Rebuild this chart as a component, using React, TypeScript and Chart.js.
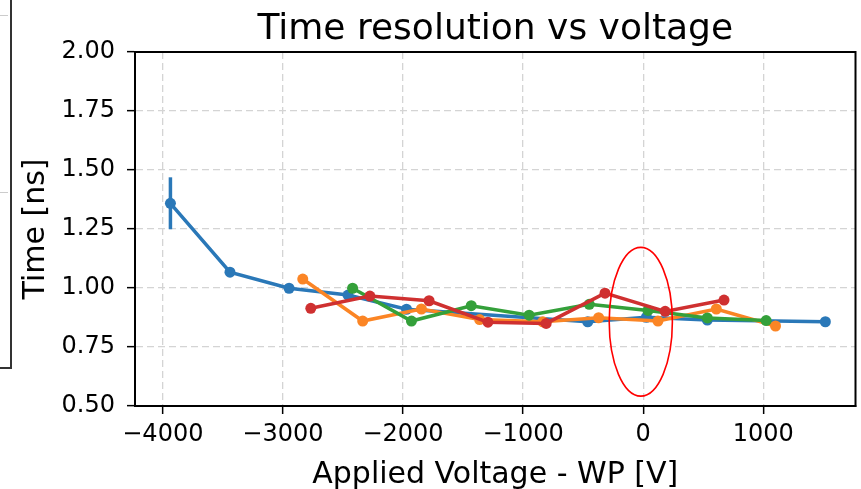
import React, { useEffect, useRef } from 'react';
import { Chart, registerables } from 'chart.js';

Chart.register(...registerables);

// ---- data ----
const titleText = 'Time resolution vs voltage';
const xLabel = 'Applied Voltage - WP [V]';
const yLabel = 'Time [ns]';

const xTicks = [-4000, -3000, -2000, -1000, 0, 1000];
const yTicks = [0.5, 0.75, 1.0, 1.25, 1.5, 1.75, 2.0];

const blueV = [-3937, -3441, -2949, -2458, -1971, -462, 27, 534, 1517];
const blueT = [1.359, 1.067, 0.999, 0.97, 0.91, 0.857, 0.876, 0.864, 0.857];
const blueErr = [0.11, 0.01, 0.01, 0.01, 0.01, 0.01, 0.01, 0.01, 0.01];

const orangeV = [-2835, -2336, -1847, -1362, -836, -371, 123, 609, 1102];
const orangeT = [1.038, 0.86, 0.911, 0.866, 0.857, 0.874, 0.86, 0.911, 0.839];

const greenV = [-2420, -1930, -1432, -950, -449, 40, 534, 1024];
const greenT = [0.999, 0.86, 0.925, 0.885, 0.931, 0.905, 0.873, 0.862];

const redV = [-2768, -2276, -1783, -1293, -808, -318, 183, 673];
const redT = [0.914, 0.966, 0.946, 0.855, 0.85, 0.978, 0.901, 0.949];

// highlighted region (ellipse) in data units
const ellipseCenterV = -20;
const ellipseCenterT = 0.857;
const ellipseRadiusV = 263;
const ellipseRadiusT = 0.315;

const xMin = -4232;
const xMax = 1768;
const yMin = 0.5;
const yMax = 2.0;

const FONT = '"DejaVu Sans", "Liberation Sans", sans-serif';

const toPts = (xs: number[], ys: number[]) => xs.map((x, i) => ({ x, y: ys[i] }));

const series = [
  { v: blueV, t: blueT, color: '#2a78b8', order: 4 },
  { v: orangeV, t: orangeT, color: '#fb8525', order: 3 },
  { v: greenV, t: greenT, color: '#34a03a', order: 2 },
  { v: redV, t: redT, color: '#cf3030', order: 1 },
];

const extrasPlugin = {
  id: 'extras',
  beforeDatasetsDraw(chart: any) {
    const { ctx, scales } = chart;
    const xs = scales.x;
    const ys = scales.y;
    ctx.save();
    ctx.strokeStyle = '#2a78b8';
    ctx.lineWidth = 3.5;
    blueV.forEach((v, i) => {
      const px = xs.getPixelForValue(v);
      ctx.beginPath();
      ctx.moveTo(px, ys.getPixelForValue(blueT[i] + blueErr[i]));
      ctx.lineTo(px, ys.getPixelForValue(blueT[i] - blueErr[i]));
      ctx.stroke();
    });
    ctx.restore();
  },
  afterDatasetsDraw(chart: any) {
    const { ctx, scales, chartArea } = chart;
    const xs = scales.x;
    const ys = scales.y;
    ctx.save();
    const cx = xs.getPixelForValue(ellipseCenterV);
    const cy = ys.getPixelForValue(ellipseCenterT);
    const rx = Math.abs(xs.getPixelForValue(ellipseCenterV + ellipseRadiusV) - cx);
    const ry = Math.abs(ys.getPixelForValue(ellipseCenterT + ellipseRadiusT) - cy);
    ctx.strokeStyle = '#ff0000';
    ctx.lineWidth = 1.6;
    ctx.beginPath();
    ctx.ellipse(cx, cy, rx, ry, 0, 0, Math.PI * 2);
    ctx.stroke();
    ctx.strokeStyle = '#000';
    ctx.lineWidth = 2;
    ctx.strokeRect(chartArea.left, chartArea.top, chartArea.right - chartArea.left, chartArea.bottom - chartArea.top);
    ctx.restore();
  },
  afterDraw(chart: any) {
    const { ctx, chartArea } = chart;
    ctx.save();
    ctx.fillStyle = '#000';
    ctx.font = `36px ${FONT}`;
    ctx.textAlign = 'center';
    ctx.textBaseline = 'alphabetic';
    ctx.fillText(titleText, (chartArea.left + chartArea.right) / 2, 39);
    ctx.restore();
  },
};

const fmtX = (v: number) => (v < 0 ? '\u2212' + Math.abs(v) : String(v));

export default function App() {
  const ref = useRef<HTMLCanvasElement | null>(null);
  useEffect(() => {
    const prevMargin = document.body.style.margin;
    document.body.style.margin = '0';
    const canvas = ref.current!;
    const chart = new Chart(canvas, {
      type: 'line',
      data: {
        datasets: series.map((s) => ({
          data: toPts(s.v, s.t),
          borderColor: s.color,
          backgroundColor: s.color,
          pointBackgroundColor: s.color,
          pointBorderColor: s.color,
          pointRadius: 5.5,
          pointBorderWidth: 0,
          borderWidth: 3.5,
          tension: 0,
          order: s.order,
        })),
      },
      options: {
        animation: false,
        responsive: false,
        devicePixelRatio: 1,
        layout: { padding: { top: 52, right: 3, left: 0, bottom: -4 } },
        plugins: {
          legend: { display: false },
          title: { display: false },
          tooltip: { enabled: false },
        },
        scales: {
          x: {
            type: 'linear',
            min: xMin,
            max: xMax,
            afterBuildTicks: (scale: any) => {
              scale.ticks = xTicks.map((value) => ({ value }));
            },
            afterFit: (scale: any) => {
              scale.height = 87;
            },
            ticks: {
              callback: (v: any) => fmtX(Number(v)),
              font: { family: FONT, size: 24 },
              color: '#000',
              padding: 6,
              maxRotation: 0,
              autoSkip: false,
            },
            grid: {
              color: '#d4d4d4',
              lineWidth: 1.3,
              tickColor: '#000',
              tickWidth: 1.5,
              tickLength: 8,
            },
            border: { color: '#000', width: 2, dash: [7, 4] },
            title: {
              display: true,
              text: xLabel,
              font: { family: FONT, size: 30 },
              color: '#000',
              padding: { top: 0, bottom: 0 },
            },
          },
          y: {
            type: 'linear',
            min: yMin,
            max: yMax,
            afterBuildTicks: (scale: any) => {
              scale.ticks = yTicks.map((value) => ({ value }));
            },
            afterFit: (scale: any) => {
              scale.width = 135;
            },
            ticks: {
              callback: (v: any) => Number(v).toFixed(2),
              font: { family: FONT, size: 24 },
              color: '#000',
              padding: 12,
              autoSkip: false,
            },
            grid: {
              color: '#d4d4d4',
              lineWidth: 1.3,
              tickColor: '#000',
              tickWidth: 1.5,
              tickLength: 8,
            },
            border: { color: '#000', width: 2, dash: [7, 4] },
            title: {
              display: true,
              text: yLabel,
              font: { family: FONT, size: 30 },
              color: '#000',
              padding: { top: 18, bottom: 0 },
            },
          },
        },
      },
      plugins: [extrasPlugin],
    } as any);
    return () => {
      chart.destroy();
      document.body.style.margin = prevMargin;
    };
  }, []);

  return (
    <div style={{ position: 'fixed', left: 0, top: 0, width: 861, height: 489, background: '#fff' }}>
      <canvas ref={ref} width={861} height={489} style={{ display: 'block' }} />
      <div style={{ position: 'absolute', left: 10, top: 0, width: 2, height: 369, background: '#333' }} />
      <div style={{ position: 'absolute', left: 0, top: 367, width: 12, height: 2, background: '#333' }} />
      <div style={{ position: 'absolute', left: 0, top: 15, width: 8, height: 1, background: '#ccc' }} />
      <div style={{ position: 'absolute', left: 0, top: 192, width: 8, height: 1, background: '#ccc' }} />
    </div>
  );
}
